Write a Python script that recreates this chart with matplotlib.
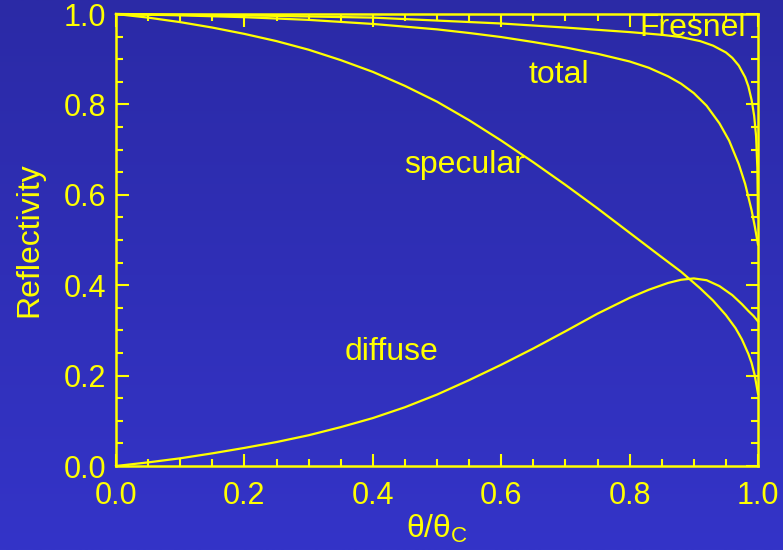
import numpy as np
import matplotlib
matplotlib.use('Agg')
import matplotlib.pyplot as plt
from matplotlib.colors import LinearSegmentedColormap

plt.rcParams['font.family'] = ['Liberation Sans', 'DejaVu Sans']
plt.rcParams['mathtext.fontset'] = 'custom'
plt.rcParams['mathtext.rm'] = 'Liberation Sans'
plt.rcParams['mathtext.default'] = 'regular'

YEL = '#ffff00'

# 读图得到的曲线 (theta/theta_c, reflectivity)
theta_fresnel = [0.0, 0.2, 0.4, 0.6, 0.7, 0.8, 0.85, 0.88, 0.91, 0.93, 0.95, 0.96, 0.97, 0.98,
                 0.985, 0.99, 0.994, 0.997, 0.999, 1.0]
r_fresnel = [1.0, 0.997, 0.992, 0.979, 0.97, 0.96, 0.954, 0.949, 0.94, 0.93, 0.915, 0.903, 0.886, 0.86,
             0.84, 0.81, 0.775, 0.73, 0.66, 0.55]

theta_total = [0.0, 0.1, 0.2, 0.3, 0.4, 0.5, 0.55, 0.6, 0.65, 0.7, 0.75, 0.8, 0.83, 0.86, 0.88, 0.9,
               0.92, 0.94, 0.955, 0.97, 0.98, 0.99, 0.995, 1.0]
r_total = [1.0, 0.997, 0.993, 0.987, 0.978, 0.966, 0.958, 0.949, 0.938, 0.926, 0.912, 0.895, 0.881, 0.862,
           0.846, 0.825, 0.797, 0.758, 0.72, 0.668, 0.624, 0.566, 0.53, 0.49]

theta_spec = [0.0, 0.05, 0.1, 0.15, 0.2, 0.25, 0.3, 0.35, 0.4, 0.45, 0.5, 0.55, 0.6, 0.65, 0.7, 0.75,
              0.8, 0.85, 0.88, 0.91, 0.93, 0.95, 0.965, 0.975, 0.985, 0.99, 0.995, 1.0]
r_spec = [1.0, 0.992, 0.982, 0.97, 0.956, 0.94, 0.921, 0.898, 0.872, 0.841, 0.806, 0.765, 0.72, 0.672,
          0.622, 0.57, 0.516, 0.462, 0.43, 0.393, 0.366, 0.334, 0.305, 0.28, 0.248, 0.228, 0.2, 0.16]

theta_diff = [0.0, 0.05, 0.1, 0.15, 0.2, 0.25, 0.3, 0.35, 0.4, 0.45, 0.5, 0.55, 0.6, 0.65, 0.7, 0.75,
              0.8, 0.83, 0.86, 0.88, 0.9, 0.92, 0.94, 0.96, 0.975, 0.985, 0.993, 1.0]
r_diff = [0.0, 0.008, 0.017, 0.028, 0.04, 0.053, 0.068, 0.086, 0.106, 0.13, 0.158, 0.19, 0.224, 0.26,
          0.298, 0.337, 0.372, 0.39, 0.405, 0.412, 0.415, 0.411, 0.398, 0.378, 0.358, 0.343, 0.332, 0.32]

fig = plt.figure(figsize=(7.83, 5.5), dpi=100)

# 背景渐变
bg = fig.add_axes([0, 0, 1, 1])
cmap = LinearSegmentedColormap.from_list('bg', ['#2b2aa6', '#3434c8'])
grad = np.linspace(0, 1, 256).reshape(-1, 1)
bg.imshow(grad, aspect='auto', cmap=cmap, extent=[0, 1, 0, 1], origin='upper')
bg.axis('off')

ax = fig.add_axes([116/783, 1 - 466/550, 642/783, 452/550])
ax.set_facecolor('none')

for xs, ys in [(theta_fresnel, r_fresnel), (theta_total, r_total),
               (theta_spec, r_spec), (theta_diff, r_diff)]:
    ax.plot(xs, ys, color=YEL, lw=1.6, clip_on=False, solid_joinstyle='round')

ax.set_xlim(0, 1)
ax.set_ylim(0, 1)
ax.set_xticks(np.arange(0, 1.01, 0.2))
ax.set_yticks(np.arange(0, 1.01, 0.2))
ax.set_xticks(np.arange(0, 1.01, 0.05), minor=True)
ax.set_yticks(np.arange(0, 1.01, 0.05), minor=True)
ax.xaxis.set_major_formatter(matplotlib.ticker.FormatStrFormatter('%.1f'))
ax.yaxis.set_major_formatter(matplotlib.ticker.FormatStrFormatter('%.1f'))

for s in ax.spines.values():
    s.set_color(YEL)
    s.set_linewidth(1.8)
ax.tick_params(which='both', direction='in', top=True, right=True, colors=YEL,
               width=1.5, labelsize=22, labelcolor=YEL)
ax.tick_params(which='major', length=9)
ax.tick_params(which='minor', length=5)
ax.tick_params(axis='x', pad=11)
ax.tick_params(axis='y', pad=7)

ax.set_ylabel('Reflectivity', fontsize=23, color=YEL, labelpad=14)
ax.set_xlabel('θ/θ$_{C}$', fontsize=23, color=YEL, labelpad=1)

ax.text(0.815, 0.969, 'Fresnel', color=YEL, fontsize=23, ha='left', va='center')
ax.text(0.643, 0.865, 'total', color=YEL, fontsize=23, ha='left', va='center')
ax.text(0.449, 0.666, 'specular', color=YEL, fontsize=23, ha='left', va='center')
ax.text(0.356, 0.252, 'diffuse', color=YEL, fontsize=23, ha='left', va='center')

fig.savefig('out.png', dpi=100)
